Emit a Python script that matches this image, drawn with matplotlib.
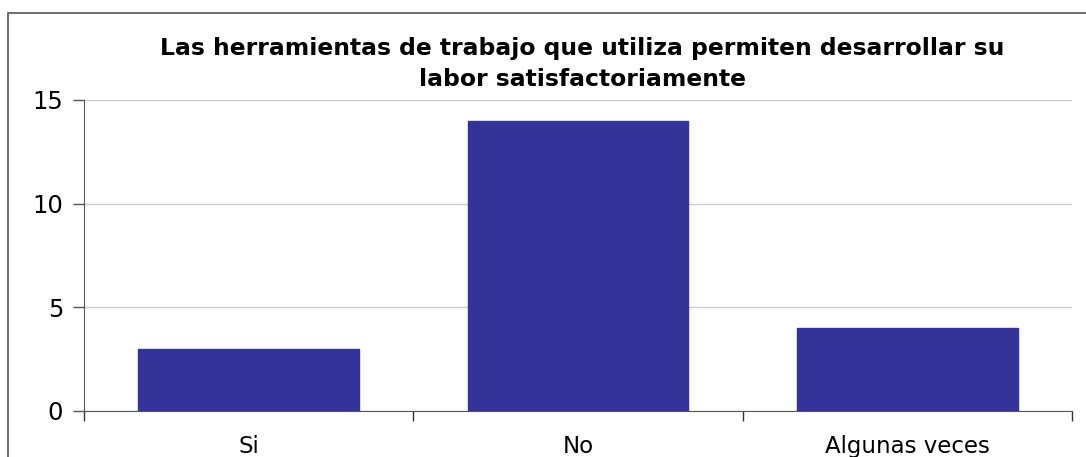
import matplotlib
matplotlib.use("Agg")
import matplotlib.pyplot as plt
from matplotlib.patches import Rectangle
import numpy as np

categories = ["Si", "No", "Algunas veces"]
counts = [3, 14, 4]
title = "Las herramientas de trabajo que utiliza permiten desarrollar su\nlabor satisfactoriamente"

W, H = 1086, 457
fig = plt.figure(figsize=(W / 100, H / 100), dpi=100)
fig.patch.set_facecolor("white")

# outer chart frame (only left and top edges visible in the crop)
fig.patches.append(Rectangle((8 / W, -0.1), 1.2, (H - 13) / H + 0.1, transform=fig.transFigure,
                             fill=False, edgecolor="#555555", linewidth=1.2))

ax = fig.add_axes([84 / W, (H - 411) / H, (1072 - 84) / W, (411 - 100) / H])
x = np.arange(len(categories))
ax.bar(x, counts, width=0.67, color="#333399", edgecolor="#333399", zorder=3)

ax.set_xlim(-0.5, len(categories) - 0.5)
ax.set_ylim(0, 15)
ax.set_yticks([0, 5, 10, 15])
ax.yaxis.grid(True, color="#cccccc", linewidth=1.0, zorder=0)
ax.set_axisbelow(True)

ax.set_xticks(np.arange(len(categories) + 1) - 0.5)
ax.set_xticklabels([])
ax.set_xticks(x, minor=True)
ax.set_xticklabels(categories, minor=True, fontsize=16.5, family="DejaVu Sans")
ax.tick_params(axis="x", which="major", length=7, width=1, color="#333333", direction="out")
ax.tick_params(axis="x", which="minor", length=0, pad=17)
ax.tick_params(axis="y", length=8, width=1, color="#555555", labelsize=17.5, pad=7)

for side in ["top", "right"]:
    ax.spines[side].set_visible(False)
ax.spines["left"].set_color("#555555")
ax.spines["bottom"].set_color("#555555")

fig.text(582.5 / W, (H - 64) / H, title, ha="center", va="center",
         fontsize=16.9, fontweight="bold", family="DejaVu Sans", linespacing=1.4)

fig.savefig("out.png", dpi=100)
